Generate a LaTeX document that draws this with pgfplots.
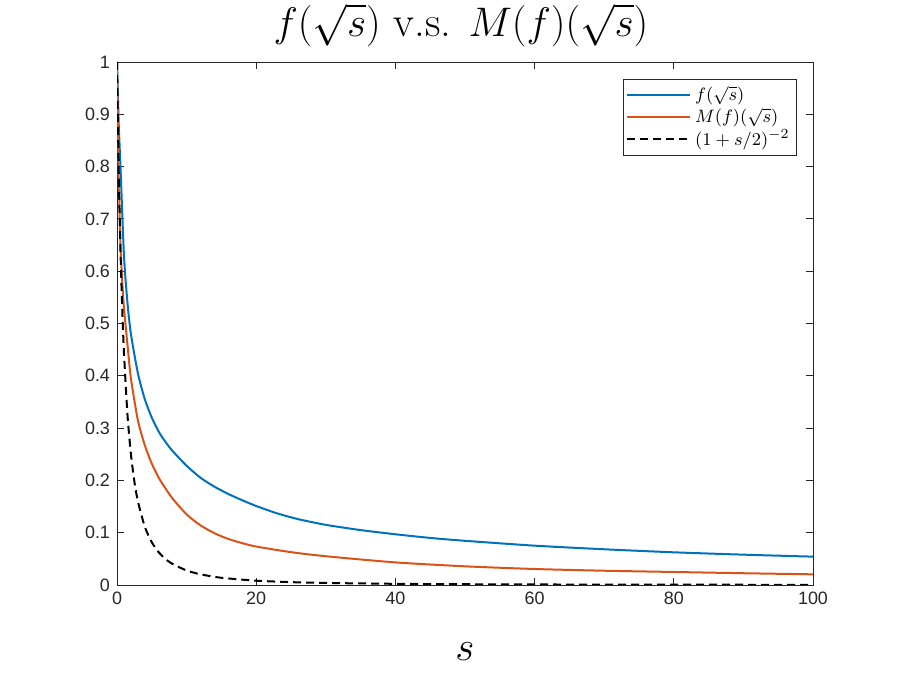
\documentclass[border=0pt]{standalone}
\usepackage{pgfplots}
\pgfplotsset{compat=1.18}
\usepackage{fontspec}
\newfontfamily\ticksf{Liberation Sans}
\definecolor{mblue}{rgb}{0,0.447,0.741}
\definecolor{morange}{rgb}{0.850,0.325,0.098}
\definecolor{axgray}{rgb}{0.15,0.15,0.15}
\begin{document}
\begin{tikzpicture}
\path[use as bounding box] (-58.5bp,-45bp) rectangle (391.5bp,292.5bp);
\begin{axis}[
  scale only axis, width=348bp, height=261.5bp,
  at={(0,0)}, anchor=south west,
  xmin=0, xmax=100, ymin=0, ymax=1,
  xtick={0,20,40,60,80,100},
  ytick={0,0.1,0.2,0.3,0.4,0.5,0.6,0.7,0.8,0.9,1},
  tick align=inside, major tick length=3.5bp,
  tick style={axgray, line width=0.4bp},
  axis line style={axgray, line width=0.4bp},
  ticklabel style={font=\ticksf\fontsize{9}{10}\selectfont, text=axgray},
  /pgf/number format/assume math mode=true,
  xlabel={$s$},
  xlabel style={font=\fontsize{20}{24}\selectfont, at={(axis description cs:0.5,0)}, anchor=base, yshift=-37.5bp},
  title={$f(\sqrt{s})$ v.s. $M(f)(\sqrt{s})$},
  title style={font=\fontsize{21.5}{25}\selectfont, inner sep=0pt, at={(axis description cs:0.5,1)}, anchor=base, yshift=7bp, xshift=-2bp},
  legend style={at={(rel axis cs:0.977,0.9675)}, anchor=north east, draw=axgray, line width=0.4bp,
    font=\fontsize{9.5}{11}\selectfont, cells={anchor=west}, inner xsep=1.5bp, inner ysep=1.5bp, row sep=-2bp},
  legend image code/.code={\draw[#1] (0bp,0bp) -- (31.5bp,0bp);},
]
\addplot[mblue, line width=1bp, smooth, tension=0.4] coordinates {
(0,1) (0.25,0.88) (0.5,0.80) (1,0.63) (1.5,0.54) (2,0.48) (3,0.405) (4,0.355) (5,0.32) (6,0.293) (7,0.273) (8,0.256) (10,0.228) (12,0.205) (14,0.188) (16,0.174) (18,0.162) (20,0.151) (23,0.137) (26,0.126) (30,0.115) (35,0.105) (40,0.097) (45,0.090) (50,0.0845) (60,0.0752) (70,0.0683) (80,0.0625) (90,0.058) (100,0.0542)
};
\addlegendentry{$f(\sqrt{s})$}
\addplot[morange, line width=1bp, smooth, tension=0.4] coordinates {
(0,1) (0.25,0.78) (0.5,0.65) (0.75,0.58) (1,0.53) (1.5,0.46) (2,0.395) (3,0.315) (4,0.267) (5,0.232) (6,0.205) (7,0.184) (8,0.165) (10,0.135) (12,0.114) (14,0.099) (16,0.088) (18,0.080) (20,0.0735) (25,0.0628) (30,0.055) (40,0.0432) (50,0.0357) (60,0.0306) (70,0.0273) (80,0.0249) (90,0.0225) (100,0.0204)
};
\addlegendentry{$M(f)(\sqrt{s})$}
\addplot[black, line width=1bp, dash pattern=on 4bp off 2.5bp, smooth, tension=0.4] coordinates {
(0,1) (0.25,0.7901) (0.5,0.64) (0.75,0.5289) (1,0.4444) (1.5,0.3265) (2,0.25) (2.5,0.1975) (3,0.16) (4,0.1111) (5,0.0816) (6,0.0625) (7,0.0494) (8,0.04) (10,0.0278) (12,0.0204) (15,0.0138) (20,0.00826) (25,0.00549) (30,0.00391) (40,0.00227) (50,0.00148) (60,0.00104) (80,0.000595) (100,0.000384)
};
\addlegendentry{$(1+s/2)^{-2}$}
\end{axis}
\end{tikzpicture}
\end{document}
